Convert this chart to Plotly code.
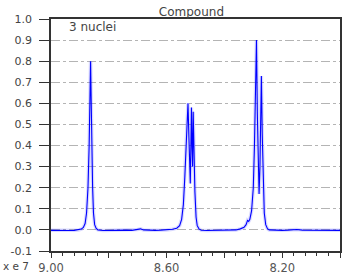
import plotly.graph_objects as go

# chemical shift (x 1e7) and intensity
shift = [9.000, 8.980, 8.960, 8.940, 8.920, 8.905, 8.895, 8.888, 8.882, 8.877,
         8.872, 8.868, 8.865, 8.863, 8.861, 8.859, 8.856, 8.853, 8.849, 8.844,
         8.838, 8.820, 8.800, 8.780, 8.760, 8.740, 8.720, 8.700, 8.690, 8.680,
         8.660, 8.640, 8.620, 8.600, 8.580, 8.565, 8.555, 8.548, 8.542, 8.537,
         8.532, 8.528, 8.526, 8.523, 8.520, 8.518, 8.516, 8.514, 8.512, 8.510,
         8.508, 8.506, 8.502, 8.498, 8.494, 8.488, 8.480, 8.460, 8.440, 8.420,
         8.400, 8.380, 8.360, 8.345, 8.332, 8.325, 8.320, 8.316, 8.312, 8.306,
         8.300, 8.296, 8.292, 8.289, 8.286, 8.283, 8.280, 8.277, 8.274, 8.272,
         8.269, 8.266, 8.262, 8.257, 8.251, 8.245, 8.220, 8.200, 8.180, 8.160,
         8.150, 8.130, 8.100, 8.080, 8.050, 8.020, 8.000]
intensity = [-0.002, -0.003, -0.002, -0.003, -0.002, 0.000, 0.004, 0.012, 0.030, 0.080,
             0.200, 0.400, 0.620, 0.800, 0.620, 0.400, 0.200, 0.080, 0.025, 0.008,
             0.000, -0.003, -0.002, -0.003, -0.002, -0.001, -0.002, 0.002, 0.005, 0.000,
             -0.002, -0.002, -0.001, 0.000, 0.003, 0.008, 0.020, 0.050, 0.120, 0.250,
             0.420, 0.550, 0.600, 0.450, 0.250, 0.220, 0.400, 0.580, 0.400, 0.300,
             0.560, 0.400, 0.180, 0.060, 0.020, 0.005, -0.002, -0.003, -0.002, -0.002,
             -0.001, -0.001, 0.000, 0.005, 0.012, 0.025, 0.045, 0.040, 0.050, 0.090,
             0.200, 0.400, 0.650, 0.900, 0.550, 0.250, 0.170, 0.300, 0.550, 0.730,
             0.450, 0.220, 0.080, 0.025, 0.006, 0.000, -0.002, -0.002, -0.001, 0.001,
             0.002, -0.001, -0.002, -0.002, -0.001, -0.002, -0.002]

x_tickvals = [9.0, 8.8, 8.6, 8.4, 8.2, 8.0]
x_ticktext = ["9.00", "", "8.60", "", "8.20", ""]
y_tickvals = [-0.1, 0.0, 0.1, 0.2, 0.3, 0.4, 0.5, 0.6, 0.7, 0.8, 0.9, 1.0]
y_ticktext = ["-0.1", "0.0", "0.1", "0.2", "0.3", "0.4", "0.5", "0.6", "0.7", "0.8", "0.9", "1.0"]

FONT = "DejaVu Sans"
AXIS = "#333333"

fig = go.Figure()
fig.add_trace(go.Scatter(x=shift, y=intensity, mode="lines",
                         line=dict(color="rgba(80,80,255,0.22)", width=3.5),
                         hoverinfo="skip", showlegend=False))
fig.add_trace(go.Scatter(x=shift, y=intensity, mode="lines",
                         line=dict(color="#0000ff", width=1.1),
                         showlegend=False))

fig.update_layout(
    width=350, height=274,
    margin=dict(l=51, r=10, t=19, b=23, autoexpand=False),
    paper_bgcolor="white", plot_bgcolor="white",
    font=dict(family=FONT, size=11, color="#444444"),
    title=dict(text="Compound", x=0.486, xref="paper", xanchor="center",
               y=1 - 12 / 274, yref="container", yanchor="middle",
               font=dict(family=FONT, size=12, color="#444444")),
    showlegend=False,
)
fig.update_xaxes(
    range=[9.0, 8.0], tickmode="array", tickvals=x_tickvals, ticktext=x_ticktext,
    ticks="outside", ticklen=5, tickcolor=AXIS, tickwidth=1,
    minor=dict(tickmode="linear", tick0=8.0, dtick=0.04, ticks="outside",
               ticklen=3, tickcolor=AXIS, showgrid=False),
    showline=True, linecolor=AXIS, linewidth=1.5, mirror=True,
    showgrid=False, zeroline=False, automargin=False,
    tickfont=dict(family=FONT, size=11.5, color="#555555"),
)
fig.update_yaxes(
    range=[-0.1, 1.0], tickmode="array", tickvals=y_tickvals, ticktext=y_ticktext,
    ticks="outside", ticklen=10, tickcolor=AXIS, tickwidth=1, ticklabelstandoff=5,
    showline=True, linecolor=AXIS, linewidth=1.5, mirror=True,
    showgrid=True, gridcolor="#b4b4b4", gridwidth=1, griddash="dashdot",
    zeroline=False, automargin=False,
    tickfont=dict(family=FONT, size=11, color="#444444"),
)
fig.add_annotation(text="3 nuclei", xref="paper", yref="paper",
                   x=0.055, y=0.9655, xanchor="left", yanchor="middle",
                   showarrow=False, font=dict(family=FONT, size=12, color="#444444"))
fig.add_annotation(text="x e 7", xref="paper", yref="paper",
                   x=-0.172, y=-0.066, xanchor="left", yanchor="middle",
                   showarrow=False, font=dict(family=FONT, size=10.5, color="#444444"))

fig.write_html("out.html", config={"displayModeBar": False},
               post_script="document.body.style.margin='0';document.body.style.overflow='hidden';")
